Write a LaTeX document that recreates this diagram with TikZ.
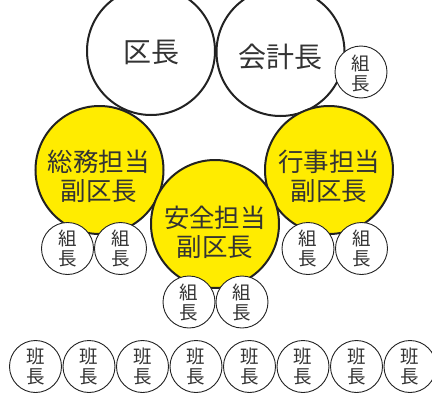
\documentclass[tikz,border=0pt]{standalone}
\usepackage{fontspec}
\newfontfamily\cjk{Noto Sans CJK JP}
\definecolor{ylw}{HTML}{FFEC00}
\definecolor{txt}{HTML}{333333}
\definecolor{edge}{HTML}{222222}
\tikzset{
  bigw/.style={circle,draw=edge,line width=2pt,fill=white,minimum size=128pt,inner sep=0pt},
  bigy/.style={circle,draw=edge,line width=2pt,fill=ylw,minimum size=128pt,inner sep=0pt},
  smallc/.style={circle,draw=edge,line width=0.9pt,fill=white,minimum size=52pt,inner sep=0pt},
  lbig/.style={text=txt,font=\cjk\fontsize{28}{30}\selectfont,inner sep=0pt},
  lmid/.style={text=txt,font=\cjk\fontsize{25.5}{29}\selectfont,align=center,inner sep=0pt},
  lsmall/.style={text=txt,font=\cjk\fontsize{18.5}{20}\selectfont,align=center,inner sep=0pt}
}
\begin{document}
\begin{tikzpicture}[x=1pt,y=-1pt]
\useasboundingbox (0,0) rectangle (432,394);
\clip (0,0) rectangle (432,394);
% top white circles
\node[bigw] (ku) at (151,51) {};
\node[bigw] (kai) at (280.5,52) {};
\node[lbig] (kut) at (151,52) {区長};
\node[lbig] (kait) at (280,57) {会計長};
% small kumicho near accountant
\node[smallc] (k0) at (361,72) {};
\node[lsmall] (k0t) at (361,73) {組\\長};
% deputies
\node[bigy] (somu) at (99.5,170) {};
\node[lmid] (somut) at (99,176) {総務担当\\副区長};
\node[bigy] (gyoji) at (329,170) {};
\node[lmid] (gyojit) at (329,176) {行事担当\\副区長};
\node[bigy] (anzen) at (215,224) {};
\node[lmid] (anzent) at (215,232) {安全担当\\副区長};
% kumicho circles
\foreach \n/\x/\y in {k1/67.5/248.5, k2/120.5/248.5, k3/308/248.5, k4/361.5/248.5, k5/189/302, k6/242/302}{
  \node[smallc] (\n) at (\x,\y) {};
  \node[lsmall] (\n t) at (\x,\y) {組\\長};
}
% hancho row
\foreach \i in {0,...,7}{
  \pgfmathsetmacro{\xx}{35.5+53.5*\i}
  \node[smallc] (h\i) at (\xx,366.5) {};
  \node[lsmall] (h\i t) at (\xx,366.5) {班\\長};
}
\end{tikzpicture}
\end{document}
